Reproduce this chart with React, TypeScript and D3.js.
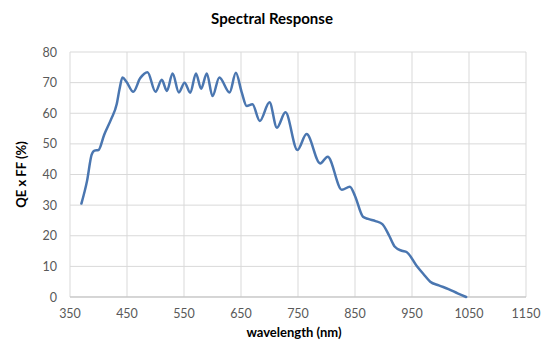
import React from "react";
import * as d3 from "d3";

const wavelengths = [370, 380, 388, 393, 400, 410, 422, 432, 437, 442, 449, 461, 473, 486, 500, 511, 520, 530, 541, 551, 561, 571, 580, 590, 600, 612, 630, 641, 651, 660, 670, 683, 700, 713, 728, 749, 765, 789, 802, 827, 841, 850, 864, 873, 886, 898, 910, 920, 932, 941, 958, 970, 982, 997, 1014, 1030, 1045];
const qeValues = [30.5, 38, 46.5, 47.8, 48, 53, 58, 63, 68, 71.7, 70.3, 67, 71.4, 73.4, 67, 70.9, 67.3, 73, 66.8, 70, 66.7, 73, 68, 73, 65.6, 71.7, 66.8, 73.2, 67, 62.4, 62.9, 57.5, 63.6, 55.3, 60.3, 48, 53.2, 43.6, 45.8, 35, 36, 33, 26.2, 25.5, 24.8, 23.8, 20, 16.4, 15.1, 14.6, 10.2, 7.5, 5, 3.8, 2.6, 1.2, 0];
const xTicks = [350, 450, 550, 650, 750, 850, 950, 1050, 1150];
const yTicks = [0, 10, 20, 30, 40, 50, 60, 70, 80];

const W = 543, H = 345;
const left = 70, right = 526, top = 52, bottom = 297;
const font = "Lato, 'Open Sans', sans-serif";

export default function App() {
  const x = d3.scaleLinear().domain([350, 1150]).range([left, right]);
  const y = d3.scaleLinear().domain([0, 80]).range([bottom, top]);
  const data = wavelengths.map((w, i) => [w, qeValues[i]] as [number, number]);
  const line = d3.line<[number, number]>().x(d => x(d[0])).y(d => y(d[1])).curve(d3.curveMonotoneX);
  return (
    <svg width={W} height={H} style={{ position: "absolute", left: 0, top: 0, background: "#fff" }}>
      <rect x={0} y={0} width={W} height={H} fill="#fff" />
      <text x={272} y={24} textAnchor="middle" fontFamily={font} fontWeight="bold" fontSize={15} fill="#000">Spectral Response</text>
      {yTicks.map(t => (
        <line key={"gy" + t} x1={left} x2={right} y1={y(t)} y2={y(t)} stroke="#d9d9d9" strokeWidth={1} />
      ))}
      {xTicks.map(t => (
        <line key={"gx" + t} x1={x(t)} x2={x(t)} y1={top} y2={bottom} stroke="#d9d9d9" strokeWidth={1} />
      ))}
      <line x1={left} x2={right} y1={bottom} y2={bottom} stroke="#bfbfbf" strokeWidth={1} />
      {yTicks.map(t => (
        <text key={"ty" + t} x={57} y={y(t) + 4.5} textAnchor="end" fontFamily={font} fontSize={12.5} fill="#595959">{t}</text>
      ))}
      {xTicks.map(t => (
        <text key={"tx" + t} x={x(t)} y={318} textAnchor="middle" fontFamily={font} fontSize={12.5} fill="#595959">{t}</text>
      ))}
      <text x={294} y={337} textAnchor="middle" fontFamily={font} fontWeight="bold" fontSize={13} fill="#000">wavelength (nm)</text>
      <text transform={`translate(26,${(top + bottom) / 2}) rotate(-90)`} textAnchor="middle" fontFamily={font} fontWeight="bold" fontSize={13} fill="#000">QE x FF (%)</text>
      <path d={line(data) || ""} fill="none" stroke="#4a76b0" strokeWidth={2.5} strokeLinejoin="round" strokeLinecap="round" />
    </svg>
  );
}
